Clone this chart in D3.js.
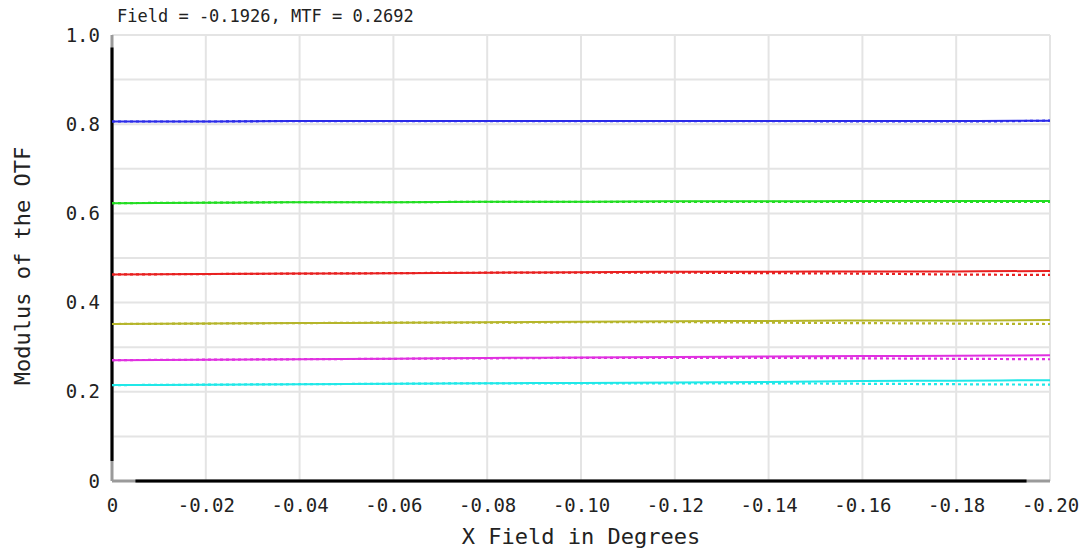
<!DOCTYPE html>
<html>
<head>
<meta charset="utf-8">
<script src="https://cdn.jsdelivr.net/npm/d3@7"></script>
<style>
  body { margin: 0; background: #fff; }
  svg text { font-family: "DejaVu Sans Mono", monospace; fill: #222; }
</style>
</head>
<body>
<svg id="chart"></svg>
<script>
const WIDTH = 1087;
const HEIGHT = 548;

// field positions (degrees)
const fields = [0, -0.02, -0.04, -0.06, -0.08, -0.10, -0.12, -0.14, -0.16, -0.18, -0.20];
const xTicks = [0, -0.02, -0.04, -0.06, -0.08, -0.10, -0.12, -0.14, -0.16, -0.18, -0.20];
const yTicks = [0, 0.2, 0.4, 0.6, 0.8, 1.0];
const seriesColors = ['#2a2ae8', '#22dd22', '#e82020', '#b5b52a', '#e030e0', '#20e8e8'];

// tangential (solid) values, one array per frequency
const tanBlue    = [0.806, 0.806, 0.807, 0.807, 0.807, 0.807, 0.807, 0.807, 0.807, 0.807, 0.808];
const tanGreen   = [0.623, 0.624, 0.625, 0.625, 0.626, 0.626, 0.627, 0.627, 0.628, 0.628, 0.628];
const tanRed     = [0.463, 0.464, 0.465, 0.466, 0.467, 0.468, 0.469, 0.469, 0.470, 0.470, 0.471];
const tanOlive   = [0.352, 0.353, 0.354, 0.355, 0.356, 0.357, 0.358, 0.359, 0.360, 0.360, 0.361];
const tanMagenta = [0.271, 0.272, 0.273, 0.274, 0.276, 0.277, 0.278, 0.279, 0.280, 0.281, 0.282];
const tanCyan    = [0.215, 0.216, 0.217, 0.218, 0.219, 0.220, 0.221, 0.222, 0.224, 0.225, 0.226];

// sagittal (dotted) values
const sagBlue    = [0.806, 0.806, 0.807, 0.807, 0.807, 0.807, 0.807, 0.807, 0.806, 0.806, 0.808];
const sagGreen   = [0.623, 0.624, 0.625, 0.625, 0.626, 0.626, 0.626, 0.626, 0.626, 0.626, 0.626];
const sagRed     = [0.463, 0.464, 0.465, 0.466, 0.467, 0.467, 0.467, 0.466, 0.465, 0.463, 0.462];
const sagOlive   = [0.352, 0.353, 0.354, 0.355, 0.355, 0.356, 0.356, 0.355, 0.354, 0.353, 0.352];
const sagMagenta = [0.271, 0.272, 0.273, 0.274, 0.275, 0.276, 0.276, 0.276, 0.275, 0.274, 0.273];
const sagCyan    = [0.215, 0.216, 0.217, 0.218, 0.219, 0.219, 0.219, 0.219, 0.218, 0.217, 0.216];

const tangential = [tanBlue, tanGreen, tanRed, tanOlive, tanMagenta, tanCyan];
const sagittal = [sagBlue, sagGreen, sagRed, sagOlive, sagMagenta, sagCyan];

// black overlay of the axes (data coordinates)
const xAxisBlack = [-0.005, -0.195];
const yAxisBlack = [0.045, 0.972];

const margin = {left: 112, right: 37, top: 35, bottom: 67};

const svg = d3.select('#chart')
    .attr('width', WIDTH)
    .attr('height', HEIGHT);

const x = d3.scaleLinear()
    .domain([0, -0.2])
    .range([margin.left, WIDTH - margin.right]);
const y = d3.scaleLinear()
    .domain([0, 1])
    .range([HEIGHT - margin.bottom, margin.top]);

// grid lines every 0.02 / 0.1
const gridX = d3.range(0, 11).map(i => -i * 0.02);
const gridY = d3.range(0, 11).map(i => i * 0.1);

svg.append('g').selectAll('line')
    .data(gridX)
    .enter().append('line')
    .attr('x1', d => x(d)).attr('x2', d => x(d))
    .attr('y1', y(0)).attr('y2', y(1))
    .attr('stroke', '#e4e4e4').attr('stroke-width', 2);

svg.append('g').selectAll('line')
    .data(gridY)
    .enter().append('line')
    .attr('x1', x(0)).attr('x2', x(-0.2))
    .attr('y1', d => y(d)).attr('y2', d => y(d))
    .attr('stroke', '#e4e4e4').attr('stroke-width', 2);

// grey axis frame
svg.append('line')
    .attr('x1', x(0)).attr('x2', x(0)).attr('y1', y(0)).attr('y2', y(1))
    .attr('stroke', '#9a9a9a').attr('stroke-width', 3);
svg.append('line')
    .attr('x1', x(0)).attr('x2', x(-0.2)).attr('y1', y(0)).attr('y2', y(0))
    .attr('stroke', '#9a9a9a').attr('stroke-width', 3);

// black overlays
svg.append('line')
    .attr('x1', x(0)).attr('x2', x(0))
    .attr('y1', y(yAxisBlack[0])).attr('y2', y(yAxisBlack[1]))
    .attr('stroke', '#000').attr('stroke-width', 3);
svg.append('line')
    .attr('x1', x(xAxisBlack[0])).attr('x2', x(xAxisBlack[1]))
    .attr('y1', y(0)).attr('y2', y(0))
    .attr('stroke', '#000').attr('stroke-width', 3);

// curves
const line = d3.line()
    .x((d, i) => x(fields[i]))
    .y(d => y(d))
    .curve(d3.curveMonotoneX);

svg.append('g').selectAll('path')
    .data(sagittal)
    .enter().append('path')
    .attr('d', line)
    .attr('fill', 'none')
    .attr('stroke', (d, i) => seriesColors[i])
    .attr('stroke-width', 2.2)
    .attr('stroke-dasharray', '3,3');

svg.append('g').selectAll('path')
    .data(tangential)
    .enter().append('path')
    .attr('d', line)
    .attr('fill', 'none')
    .attr('stroke', (d, i) => seriesColors[i])
    .attr('stroke-width', 2);

// axes labels
const bottomAxis = d3.axisBottom(x)
    .tickValues(xTicks)
    .tickSize(0)
    .tickPadding(18)
    .tickFormat(d => d === 0 ? '0' : d3.format('.2f')(d).replace('−', '-'));
const gb = svg.append('g')
    .attr('transform', 'translate(0,' + y(0) + ')')
    .call(bottomAxis);
gb.select('.domain').remove();
gb.selectAll('text')
    .style('font-size', '19px')
    .attr('fill', '#222');

const leftAxis = d3.axisLeft(y)
    .tickValues(yTicks)
    .tickSize(0)
    .tickPadding(12)
    .tickFormat(d => d === 0 ? '0' : d3.format('.1f')(d));
const gl = svg.append('g')
    .attr('transform', 'translate(' + x(0) + ',0)')
    .call(leftAxis);
gl.select('.domain').remove();
gl.selectAll('text')
    .style('font-size', '19px')
    .attr('fill', '#222');

// titles
svg.append('text')
    .attr('x', 117).attr('y', 22)
    .style('font-size', '17px')
    .text('Field = -0.1926, MTF = 0.2692');

svg.append('text')
    .attr('x', (x(0) + x(-0.2)) / 2).attr('y', 544)
    .attr('text-anchor', 'middle')
    .style('font-size', '22px')
    .text('X Field in Degrees');

svg.append('text')
    .attr('transform', 'translate(30,' + (y(0.5) + 8) + ') rotate(-90)')
    .attr('text-anchor', 'middle')
    .style('font-size', '22px')
    .text('Modulus of the OTF');
</script>
</body>
</html>
